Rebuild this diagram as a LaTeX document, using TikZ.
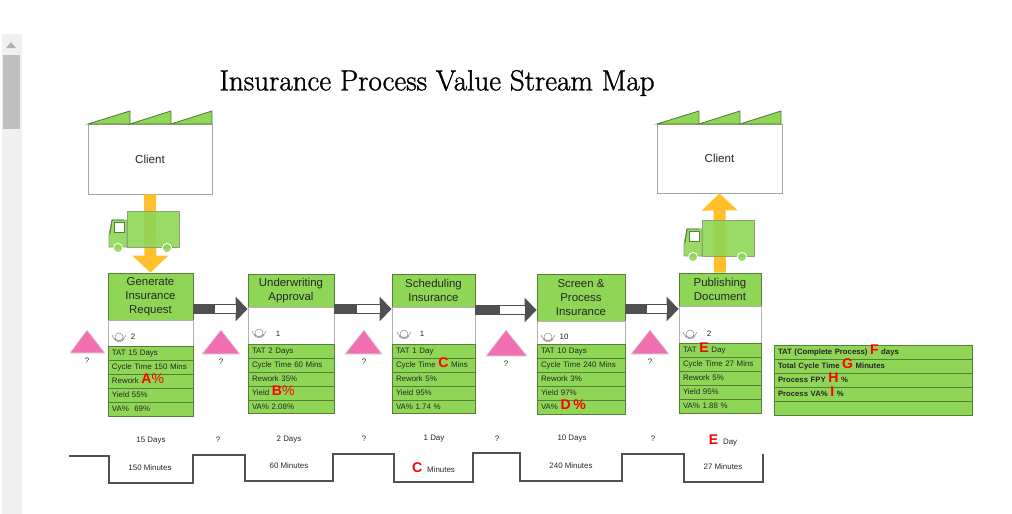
\documentclass[tikz,border=0pt]{standalone}
\usepackage{fontspec}
\setsansfont{Liberation Sans}
\newfontfamily\titlefont[FakeBold=1.2]{Latin Modern Roman}
\usetikzlibrary{arrows.meta}
\definecolor{vsmgreen}{HTML}{8FD656}
\definecolor{vsmedge}{HTML}{557F36}
\definecolor{vsmorange}{HTML}{FFC02B}
\definecolor{vsmpink}{HTML}{F26FB2}
\definecolor{vsmdark}{HTML}{505050}
\newcommand{\cell}[7]{
    \pgfmathsetlengthmacro\cellw{(#5-#3)*0.02cm}
    \pgfmathsetlengthmacro\cellh{(#6-#4)*0.02cm}
    \pgfmathsetlengthmacro\cellt{(#5-#3)*0.02cm-0.16cm}
    \node[#2, minimum width=\cellw, minimum height=\cellh] (#1) at ({(#3+#5)/2},{(#4+#6)/2}) {#7};
}
\newcommand{\redmark}[1]{\smash{\fontsize{8pt}{8pt}\selectfont\bfseries\color{red}#1}}
\newcommand{\redpct}{\smash{\fontsize{8pt}{8pt}\selectfont\color{red}\%}}
\newcommand{\roofline}[2]{
    \filldraw[roof] (#1,#2) -- ++(42,-13) -- ++(0,13) -- cycle;
    \filldraw[roof] (#1+42,#2) -- ++(41,-13) -- ++(0,13) -- cycle;
    \filldraw[roof] (#1+83,#2) -- ++(41,-13) -- ++(0,13) -- cycle;
}
\newcommand{\truckshape}[2]{
    \begin{scope}[shift={(#1,#2)}]
        \filldraw[truck] (0,0) rectangle (52,36);
        \filldraw[truck] (0,36) -- (-18,36) -- (-18,24) -- (-15,9) -- (0,9) -- cycle;
        \draw[draw=vsmedge, line width=0.5pt] (-3,9) -- (-15,9) -- (-17,23);
        \filldraw[draw=vsmedge, fill=white, line width=0.5pt] (-13,11) rectangle (-3,21);
        \filldraw[truck, draw=white] (-9,37) circle[radius=4.6];
        \filldraw[truck, draw=white] (40,37) circle[radius=4.6];
    \end{scope}
}
\newcommand{\opicon}[2]{
    \draw[opline] (#1,#2) circle[radius=4];
    \draw[opline] (#1-7,#2-2) arc[start angle=195, end angle=345, radius=0.145cm];
    \draw[opline] (#1-5,#2+2) arc[start angle=215, end angle=325, radius=0.125cm];
}
\newcommand{\pusharrow}[3]{
    \draw[push] (#1.east |- 0,#3) -- (#2.west |- 0,#3);
    \path (#1.east |- 0,#3) -- node[pos=0.4, inner sep=0] (#1m) {} (#2.west |- 0,#3);
    \draw[pushgap] (#1m.center) -- ([xshift=-0.24cm]#2.west |- 0,#3);
}
\begin{document}
\begin{tikzpicture}[
    x=0.02cm, y=-0.02cm,
    every node/.style={font=\sffamily\fontsize{4.5pt}{5.5pt}\selectfont, text=black!85},
    factory/.style={rectangle, draw=black!35, fill=white, line width=0.5pt, inner sep=0,
        font=\sffamily\fontsize{6.6pt}{8pt}\selectfont},
    roof/.style={draw=vsmedge, fill=vsmgreen, line width=0.5pt},
    truck/.style={draw=vsmedge!70, fill=vsmgreen, fill opacity=0.9, line width=0.5pt},
    ship/.style={vsmorange, line width=0.24cm, -{Triangle[length=0.34cm, width=0.7cm]}},
    header/.style={rectangle, draw=vsmedge, fill=vsmgreen, line width=0.45pt, inner sep=0,
        align=center, font=\sffamily\fontsize{6.5pt}{7.8pt}\selectfont},
    opbox/.style={rectangle, draw=black!30, fill=white, line width=0.45pt, inner sep=0},
    rowbox/.style={rectangle, draw=vsmedge, fill=vsmgreen, line width=0.45pt, inner xsep=0.08cm,
        inner ysep=0, text width=\cellt, align=left, text height=4.2pt, text depth=0.8pt},
    sumbox/.style={rowbox, font=\sffamily\bfseries\fontsize{4.4pt}{5.5pt}\selectfont},
    stock/.style={draw=black!15, fill=vsmpink, line width=0.4pt},
    opline/.style={draw=black!45, line width=0.3pt},
    push/.style={vsmdark, line width=0.2cm, -{Triangle[length=0.24cm, width=0.48cm]}},
    pushgap/.style={white, line width=0.15cm},
    timeline/.style={draw=vsmdark, line width=1.1pt},
    tag/.style={inner sep=0}
]
    \useasboundingbox (0,0) rectangle (1012,514);
    \fill[black!6] (2,34) rectangle (22,514);
    \fill[black!25] (3,55) rectangle (20,129);
    \fill[black!30] (6,48) -- (11,42) -- (16,48) -- cycle;

    \node[inner sep=0, font=\titlefont\fontsize{16.55pt}{18pt}\selectfont, text=black] (title) at (437,83) {Insurance Process Value Stream Map};

    \cell{clientl}{factory}{88}{124}{212}{194}{Client}
    \cell{clientr}{factory}{657}{124}{782}{193}{Client}
    \roofline{88}{124}
    \roofline{657}{124}

    \cell{head1}{header}{108}{273}{193}{320}{Generate\\Insurance\\Request}
    \cell{op1}{opbox}{108}{320}{193}{346}{}
    \cell{tat1}{rowbox}{108}{346}{193}{360}{TAT 15 Days}
    \cell{cyc1}{rowbox}{108}{360}{193}{374}{Cycle Time 150 Mins}
    \cell{rew1}{rowbox}{108}{374}{193}{388}{Rework \redmark{A}\redpct}
    \cell{yld1}{rowbox}{108}{388}{193}{402}{Yield 55\%}
    \cell{va1}{rowbox}{108}{402}{193}{416}{VA\%\ \ 69\%}

    \cell{head2}{header}{248}{274}{334}{307}{Underwriting\\Approval}
    \cell{op2}{opbox}{248}{307}{334}{344}{}
    \cell{tat2}{rowbox}{248}{344}{334}{358}{TAT 2 Days}
    \cell{cyc2}{rowbox}{248}{358}{334}{372}{Cycle Time 60 Mins}
    \cell{rew2}{rowbox}{248}{372}{334}{386}{Rework 35\%}
    \cell{yld2}{rowbox}{248}{386}{334}{400}{Yield \redmark{B}\redpct}
    \cell{va2}{rowbox}{248}{400}{334}{413}{VA\% 2.08\%}

    \cell{head3}{header}{392}{274}{475}{307}{Scheduling\\Insurance}
    \cell{op3}{opbox}{392}{307}{475}{344}{}
    \cell{tat3}{rowbox}{392}{344}{475}{358}{TAT 1 Day}
    \cell{cyc3}{rowbox}{392}{358}{475}{372}{Cycle Time \redmark{C} Mins}
    \cell{rew3}{rowbox}{392}{372}{475}{386}{Rework 5\%}
    \cell{yld3}{rowbox}{392}{386}{475}{400}{Yield 95\%}
    \cell{va3}{rowbox}{392}{400}{475}{413}{VA\% 1.74 \%}

    \cell{head4}{header}{537}{274}{625}{321}{Screen \&\\Process\\Insurance}
    \cell{op4}{opbox}{537}{321}{625}{344}{}
    \cell{tat4}{rowbox}{537}{344}{625}{358}{TAT 10 Days}
    \cell{cyc4}{rowbox}{537}{358}{625}{372}{Cycle Time 240 Mins}
    \cell{rew4}{rowbox}{537}{372}{625}{386}{Rework 3\%}
    \cell{yld4}{rowbox}{537}{386}{625}{400}{Yield 97\%}
    \cell{va4}{rowbox}{537}{400}{625}{414}{VA\% \redmark{D \%}}

    \cell{head5}{header}{679}{273}{761}{306}{Publishing\\Document}
    \cell{op5}{opbox}{679}{306}{761}{343}{}
    \cell{tat5}{rowbox}{679}{343}{761}{357}{TAT \redmark{E} Day}
    \cell{cyc5}{rowbox}{679}{357}{761}{371}{Cycle Time 27 Mins}
    \cell{rew5}{rowbox}{679}{371}{761}{385}{Rework 5\%}
    \cell{yld5}{rowbox}{679}{385}{761}{399}{Yield 95\%}
    \cell{va5}{rowbox}{679}{399}{761}{413}{VA\% 1.88 \%}

    \cell{sum1}{sumbox}{774}{345}{972}{359}{TAT (Complete Process) \redmark{F} days}
    \cell{sum2}{sumbox}{774}{359}{972}{373}{Total Cycle Time \redmark{G} Minutes}
    \cell{sum3}{sumbox}{774}{373}{972}{387}{Process FPY \redmark{H} \%}
    \cell{sum4}{sumbox}{774}{387}{972}{401}{Process VA\% \redmark{I} \%}
    \cell{sum5}{sumbox}{774}{401}{972}{415}{}

    \draw[ship] (clientl.south) -- (head1.north);
    \draw[ship] (head5.north) -- (clientr.south);
    \truckshape{127}{211}
    \truckshape{702}{220}

    \pusharrow{head1}{head2}{309}
    \pusharrow{head2}{head3}{309}
    \pusharrow{head3}{head4}{310}
    \pusharrow{head4}{head5}{309}

    \opicon{119}{337}
    \opicon{259}{333}
    \opicon{404}{334}
    \opicon{548}{337}
    \opicon{690}{334}
    \node[tag] (num1) at (133,337) {2};
    \node[tag] (num2) at (278,334) {1};
    \node[tag] (num3) at (422,334) {1};
    \node[tag] (num4) at (564,337) {10};
    \node[tag] (num5) at (709,334) {2};

    \filldraw[stock] (70,353) -- (87,330) -- (105,353) -- cycle;
    \filldraw[stock] (202,354) -- (221,330) -- (240,354) -- cycle;
    \filldraw[stock] (345,354) -- (364,330) -- (382,354) -- cycle;
    \filldraw[stock] (486,356) -- (506,330) -- (527,356) -- cycle;
    \filldraw[stock] (631,354) -- (650,330) -- (669,354) -- cycle;
    \node[tag] (wait1) at (87,361) {?};
    \node[tag] (wait2) at (221,362) {?};
    \node[tag] (wait3) at (364,362) {?};
    \node[tag] (wait4) at (506,364) {?};
    \node[tag] (wait5) at (650,362) {?};

    \node[tag] (lead1) at (151,441) {15 Days};
    \node[tag] (idle1) at (218,440) {?};
    \node[tag] (lead2) at (289,440) {2 Days};
    \node[tag] (idle2) at (364,439) {?};
    \node[tag] (lead3) at (434,439) {1 Day};
    \node[tag] (idle3) at (497,439) {?};
    \node[tag] (lead4) at (572,439) {10 Days};
    \node[tag] (idle4) at (653,439) {?};
    \node[tag, text height=6pt, text depth=0pt] (lead5) at (723,439) {\redmark{E}\hspace{2.8pt}Day};

    \draw[timeline] (69,456) -- (109,456) -- (109,483) -- (193,483) -- (193,455) -- (245,455)
        -- (245,481) -- (333,481) -- (333,454) -- (394,454) -- (394,482) -- (473,482)
        -- (473,453) -- (520,453) -- (520,481) -- (622,481) -- (622,454) -- (684,454)
        -- (684,482) -- (763,482) -- (763,454);

    \node[tag] (proc1) at (150,468) {150 Minutes};
    \node[tag] (proc2) at (289,466) {60 Minutes};
    \node[tag, text height=6pt, text depth=0pt] (proc3) at (433.5,467) {\redmark{C}\hspace{2.8pt}Minutes};
    \node[tag] (proc4) at (571,466) {240 Minutes};
    \node[tag] (proc5) at (723,467) {27 Minutes};
\end{tikzpicture}
\end{document}
